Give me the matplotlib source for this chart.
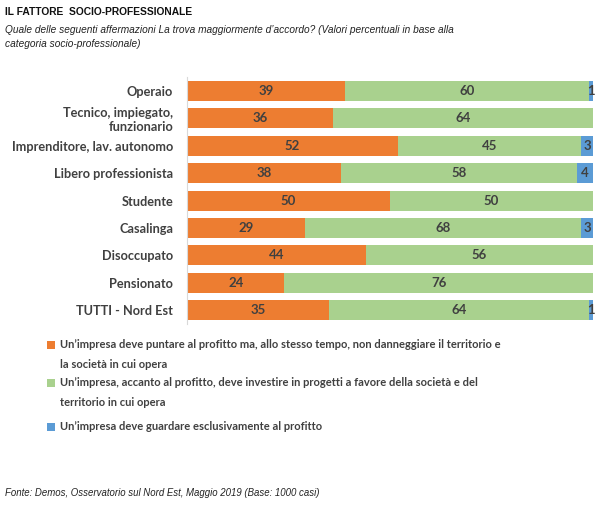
import matplotlib.pyplot as plt
from matplotlib.patches import Rectangle

categorie = [
    "Operaio",
    "Tecnico, impiegato,\nfunzionario",
    "Imprenditore, lav. autonomo",
    "Libero professionista",
    "Studente",
    "Casalinga",
    "Disoccupato",
    "Pensionato",
    "TUTTI - Nord Est",
]
non_danneggiare = [39, 36, 52, 38, 50, 29, 44, 24, 35]
investire = [60, 64, 45, 58, 50, 68, 56, 76, 64]
solo_profitto = [1, 0, 3, 4, 0, 3, 0, 0, 1]

etichette = [
    "Un\u2019impresa deve puntare al profitto ma, allo stesso tempo, non danneggiare il territorio e\nla società in cui opera",
    "Un\u2019impresa, accanto al profitto, deve investire in progetti a favore della società e del\nterritorio in cui opera",
    "Un\u2019impresa deve guardare esclusivamente al profitto",
]
colori = ["#ED7D31", "#A9D18E", "#5B9BD5"]
testo = "#404040"
font_bar = "Lato"

fig = plt.figure(figsize=(6, 5.07), dpi=100)
ax = fig.add_axes([0.3117, 0.361, 0.6767, 0.487])

y = list(range(len(categorie)))
serie = [non_danneggiare, investire, solo_profitto]
left = [0] * len(categorie)
for valori, col in zip(serie, colori):
    ax.barh(y, valori, left=left, height=0.73, color=col, edgecolor="none")
    for i, v in enumerate(valori):
        if v > 0:
            ax.text(left[i] + v / 2, i, str(v), ha="center", va="center",
                    fontsize=9.5, color=testo, fontweight="bold", family=font_bar)
    left = [a + b for a, b in zip(left, valori)]

ax.set_xlim(0, 100)
ax.set_ylim(len(categorie) - 0.5, -0.5)
ax.set_yticks(y)
ax.set_yticklabels(categorie, fontsize=9.2, color=testo, fontweight="bold", family=font_bar)
ax.tick_params(axis="y", length=0, pad=10)
ax.set_xticks([])
for s in ["top", "right", "bottom"]:
    ax.spines[s].set_visible(False)
ax.spines["left"].set_color("#D9D9D9")

fig.text(0.008, 1 - 12 / 507, "IL FATTORE  SOCIO-PROFESSIONALE", fontsize=7.4, fontweight="bold",
         family="Liberation Sans", va="center", color="#111111")
fig.text(0.008, 1 - 37 / 507, "Quale delle seguenti affermazioni La trova maggiormente d\u2019accordo? (Valori percentuali in base alla\ncategoria socio-professionale)",
         fontsize=7.3, style="italic", family="Liberation Sans", va="center", color="#222222", linespacing=1.45)
fig.text(0.008, 1 - 493 / 507, "Fonte: Demos, Osservatorio sul Nord Est, Maggio 2019 (Base: 1000 casi)",
         fontsize=6.9, style="italic", family="Liberation Sans", va="center", color="#222222")

# legenda disegnata a mano (quadratino allineato alla prima riga)
righe_leg = [(345, 364), (383, 402), (427, 427)]
for testo_leg, col, (y1, y2) in zip(etichette, colori, righe_leg):
    fig.patches.append(Rectangle((47 / 600, 1 - (y1 + 4) / 507), 8 / 600, 8 / 507,
                                 transform=fig.transFigure, facecolor=col, edgecolor="none"))
    fig.text(60 / 600, 1 - (y1 + y2) / 2 / 507, testo_leg, fontsize=8, fontweight="bold",
             family=font_bar, color=testo, va="center", linespacing=1.9)

fig.savefig("out.png", dpi=100)
